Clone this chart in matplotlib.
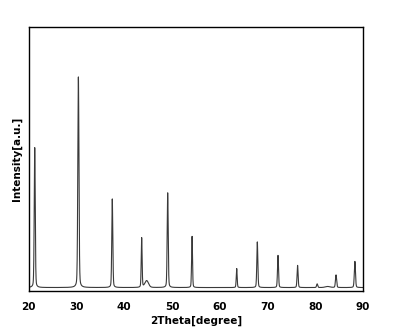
import numpy as np
import matplotlib
matplotlib.use("Agg")
import matplotlib.pyplot as plt

# Peak positions (2theta, degree), heights (a.u.), widths (FWHM, degree)
peak_pos = [21.26, 30.4, 37.5, 43.65, 44.7, 49.1, 54.2, 63.55, 67.87, 72.2, 76.3, 80.4, 82.6, 84.35, 88.3]
peak_height = [53.0, 79.8, 33.6, 18.8, 2.6, 36.0, 19.5, 7.2, 17.3, 12.2, 8.4, 1.4, 0.4, 4.8, 9.9]
peak_width = [0.25, 0.28, 0.25, 0.22, 0.9, 0.25, 0.22, 0.22, 0.25, 0.25, 0.25, 0.28, 1.2, 0.28, 0.28]
baseline = 1.2
x_ticks = [20, 30, 40, 50, 60, 70, 80, 90]

theta = np.linspace(20, 90, 3500)
intensity = np.full_like(theta, baseline)
eta = 0.25  # Lorentzian fraction of the pseudo-Voigt profile
for p, h, w in zip(peak_pos, peak_height, peak_width):
    g = (w / 2) ** 2
    lor = g / ((theta - p) ** 2 + g)
    gau = np.exp(-4 * np.log(2) * (theta - p) ** 2 / w ** 2)
    intensity += h * (eta * lor + (1 - eta) * gau)

fig = plt.figure(figsize=(3.95, 3.3), dpi=100)
ax = fig.add_axes([0.0727, 0.119, 0.8463, 0.80])
ax.plot(theta, intensity, color="#3a3a3a", lw=0.8)
ax.set_xlim(20, 90)
ax.set_ylim(0, 100)
ax.set_xticks(x_ticks)
ax.set_yticks([])
ax.tick_params(axis="x", length=0, pad=8, labelsize=7.5)
for lab in ax.get_xticklabels():
    lab.set_fontweight("bold")
for s in ax.spines.values():
    s.set_linewidth(1.0)
    s.set_color("black")
ax.set_xlabel("2Theta[degree]", fontsize=7.5, fontweight="bold", labelpad=3)
ax.set_ylabel("Intensity[a.u.]", fontsize=7.5, fontweight="bold", labelpad=5)
fig.savefig("out.png", dpi=100)
